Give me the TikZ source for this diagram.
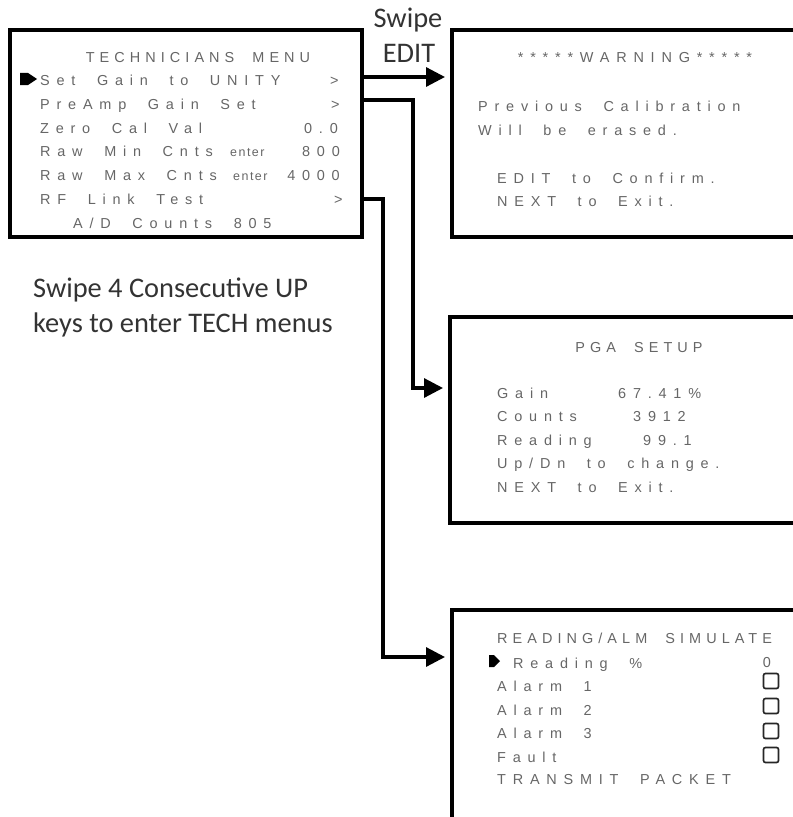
\documentclass[tikz,border=0pt]{standalone}
\usepackage{fontspec}
\newfontfamily\lcdfont[LetterSpace=47,WordSpace=2]{Liberation Sans}
\newfontfamily\lcdtight[LetterSpace=35,WordSpace=2]{Liberation Sans}
\newfontfamily\lcdsmall[LetterSpace=12]{Liberation Sans}
\newfontfamily\notefont{Carlito}
\usetikzlibrary{arrows.meta}

\tikzset{
  screen/.style={draw=black,line width=3.2bp,anchor=north west,inner sep=0pt,outer sep=0pt},
  lcd/.style={font=\lcdfont\fontsize{14.5}{16}\selectfont,text=black!60,inner sep=0pt,anchor=base west},
  lcdtitle/.style={lcd,font=\lcdtight\fontsize{14.5}{16}\selectfont,anchor=base},
  lcdhint/.style={font=\lcdsmall\fontsize{12.5}{14}\selectfont,text=black!60,inner sep=0pt,anchor=base west},
  note/.style={font=\notefont\fontsize{28.5}{34}\selectfont,text=black!80,inner sep=0pt,anchor=base west},
  link/.style={draw=black,line width=3.2bp,-{Triangle[length=19bp,width=19bp]},shorten >=7bp},
  checkbox/.style={draw=black!85,line width=1.7bp,rounded corners=2bp,minimum size=15bp,inner sep=0pt}
}

\begin{document}
\begin{tikzpicture}[x=1bp,y=-1bp]
\useasboundingbox (0,0) rectangle (793,817);
\clip (0,0) rectangle (793,817);
\node[screen,minimum width=352bp,minimum height=207bp] (tech) at (10,30) {};
\node[screen,minimum width=450bp,minimum height=207bp] (warn) at (452,30) {};
\node[screen,minimum width=450bp,minimum height=206bp] (pga) at (450,317) {};
\node[screen,minimum width=450bp,minimum height=260bp] (sim) at (452,610) {};
\node[lcdtitle] (techtitle) at (198,63) {TECHNICIANS MENU};
\fill (20,73) -- (28,73) -- (37,79) -- (28,85) -- (20,85) -- cycle;
\node[lcd] (setgain) at (40,85) {Set Gain to UNITY};
\node[lcd] (setgainmark) at (330,85) {>};
\node[lcd] (preamp) at (40,109) {PreAmp Gain Set};
\node[lcd] (preampmark) at (331,109) {>};
\node[lcd] (zerocal) at (40,133) {Zero Cal Val};
\node[lcd,anchor=base east] (zeroval) at (338,133) {0.0};
\node[lcd] (rawmin) at (40,156) {Raw Min Cnts};
\node[lcdhint] (rawminenter) at (230,156) {enter};
\node[lcd,anchor=base east] (rawminval) at (340,156) {800};
\node[lcd] (rawmax) at (40,180) {Raw Max Cnts};
\node[lcdhint] (rawmaxenter) at (233,180) {enter};
\node[lcd,anchor=base east] (rawmaxval) at (340,180) {4000};
\node[lcd] (rflink) at (40,204) {RF Link Test};
\node[lcd] (rflinkmark) at (334,204) {>};
\node[lcd] (adcounts) at (73,228) {A/D Counts 805};
\node[lcd,anchor=base] (warntitle) at (635,63) {*****WARNING*****};
\node[lcd] (warnprev) at (478,111) {Previous Calibration};
\node[lcd] (warnerase) at (478,135) {Will be erased.};
\node[lcd] (warnedit) at (497,183) {EDIT to Confirm.};
\node[lcd] (warnnext) at (497,206) {NEXT to Exit.};
\node[lcdtitle] (pgatitle) at (639,352) {PGA SETUP};
\node[lcd] (pgagain) at (497,398) {Gain};
\node[lcd] (pgagainval) at (618,398) {67.41\%};
\node[lcd] (pgacounts) at (497,421) {Counts};
\node[lcd] (pgacountsval) at (633,421) {3912};
\node[lcd] (pgareading) at (497,445) {Reading};
\node[lcd] (pgareadingval) at (643,445) {99.1};
\node[lcd] (pgaupdn) at (497,468) {Up/Dn to change.};
\node[lcd] (pganext) at (497,492) {NEXT to Exit.};
\node[lcdtitle,anchor=base west] (simtitle) at (497,643) {READING/ALM SIMULATE};
\fill (489,655) -- (494,655) -- (500,661) -- (494,667) -- (489,667) -- cycle;
\node[lcd] (simreading) at (513,668) {Reading \%};
\node[lcd,anchor=base] (simreadingval) at (767,667) {0};
\node[lcd] (simalm1) at (497,691) {Alarm 1};
\node[lcd] (simalm2) at (497,715) {Alarm 2};
\node[lcd] (simalm3) at (497,738) {Alarm 3};
\node[lcd] (simfault) at (497,762) {Fault};
\node[lcd] (simsend) at (497,784) {TRANSMIT PACKET};
\node[checkbox] (simalm1box) at (771,681) {};
\node[checkbox] (simalm2box) at (771,706) {};
\node[checkbox] (simalm3box) at (771,731) {};
\node[checkbox] (simfaultbox) at (771,755) {};
\node[note,anchor=base] (swipe) at (408,28) {Swipe};
\node[note,anchor=base] (swipeedit) at (409,63) {EDIT};
\node[note] (hintup) at (33,297) {Swipe 4 Consecutive UP};
\node[note] (hintkeys) at (33,332) {keys to enter TECH menus};
\coordinate (gainout) at (362,77);
\coordinate (preampout) at (362,100);
\coordinate (rflinkout) at (362,199);
\coordinate (pgain) at (450,388);
\coordinate (simin) at (452,657);
\draw[link] (gainout) -- (warn.west |- gainout);
\draw[link] (preampout) -- ++(51,0) |- (pgain);
\draw[link] (rflinkout) -- ++(21,0) |- (simin);
\end{tikzpicture}
\end{document}
